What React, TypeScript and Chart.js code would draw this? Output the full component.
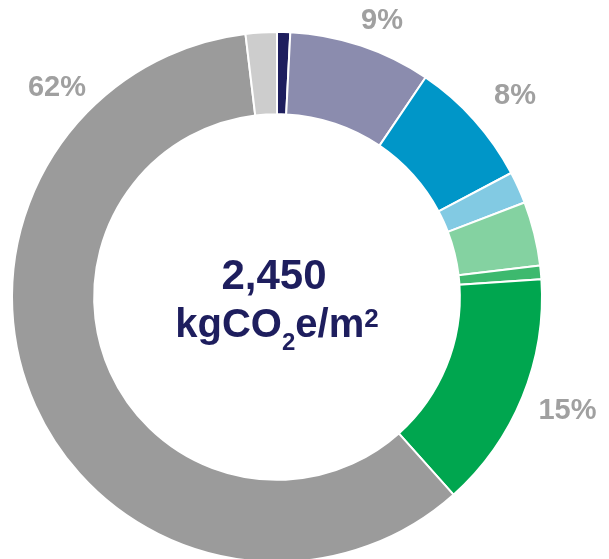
import React, { useEffect, useRef } from "react";
import { Chart, registerables } from "chart.js";

Chart.register(...registerables);

const categories = ["Navy", "Purple", "Blue", "Light blue", "Light green", "Mid green", "Green", "Grey", "Light grey"];
const values = [0.8, 8.67, 7.78, 1.95, 3.9, 0.83, 14.47, 59.7, 1.9];
const colors = ["#1E1E5E", "#8B8CAE", "#0096C8", "#82CAE3", "#84D2A1", "#3DB96E", "#00A64F", "#9B9B9B", "#CDCDCD"];
const pctLabels = ["9%", "8%", "15%", "62%"];
const totalValue = "2,450";

const FONT = "'Liberation Sans', Arial, Helvetica, sans-serif";

const labelPlugin = {
  id: "customText",
  afterDraw(chart: any) {
    const ctx = chart.ctx;
    const meta = chart.getDatasetMeta(0);
    const arc = meta.data[0];
    const cx = arc.x;
    const cy = arc.y;
    const offsets = [
      [105, -276],
      [238, -201],
      [290.5, 114],
      [-220, -209],
    ];
    ctx.save();
    ctx.fillStyle = "#A0A0A0";
    ctx.font = `bold 29px ${FONT}`;
    ctx.textAlign = "center";
    ctx.textBaseline = "middle";
    pctLabels.forEach((t, i) => {
      ctx.fillText(t, cx + offsets[i][0], cy + offsets[i][1]);
    });

    // center text
    ctx.fillStyle = "#1E1E5E";
    ctx.textBaseline = "alphabetic";
    ctx.font = `bold 42px ${FONT}`;
    ctx.fillText(totalValue, cx - 3, cy - 8);

    const parts: [string, number, number][] = [
      ["kgCO", 40, 0],
      ["2", 24, 13],
      ["e/m", 40, 0],
      ["2", 26, -10],
    ];
    let total = 0;
    const widths = parts.map(([t, s]) => {
      ctx.font = `bold ${s}px ${FONT}`;
      const w = ctx.measureText(t).width;
      total += w;
      return w;
    });
    let x = cx - total / 2;
    const base = cy + 40;
    ctx.textAlign = "left";
    parts.forEach(([t, s, dy], i) => {
      ctx.font = `bold ${s}px ${FONT}`;
      ctx.fillText(t, x, base + dy);
      x += widths[i];
    });
    ctx.restore();
  },
};

export default function App() {
  const ref = useRef<HTMLCanvasElement>(null);
  useEffect(() => {
    document.body.style.margin = "0";
    document.body.style.overflow = "hidden";
    const chart = new Chart(ref.current!, {
      type: "doughnut",
      data: {
        labels: categories,
        datasets: [
          {
            data: values,
            backgroundColor: colors,
            borderColor: "#FFFFFF",
            borderWidth: 2,
          },
        ],
      },
      options: {
        responsive: false,
        animation: false,
        cutout: "69%",
        layout: { padding: { left: 11, right: 66, top: 31, bottom: 17 } },
        plugins: {
          legend: { display: false },
          tooltip: { enabled: false },
        },
      },
      plugins: [labelPlugin],
    });
    return () => chart.destroy();
  }, []);
  return (
    <div style={{ position: "absolute", left: 0, top: 0, width: 609, height: 580, overflow: "hidden" }}>
      <canvas ref={ref} width={609} height={580} style={{ width: 609, height: 580 }} />
    </div>
  );
}
